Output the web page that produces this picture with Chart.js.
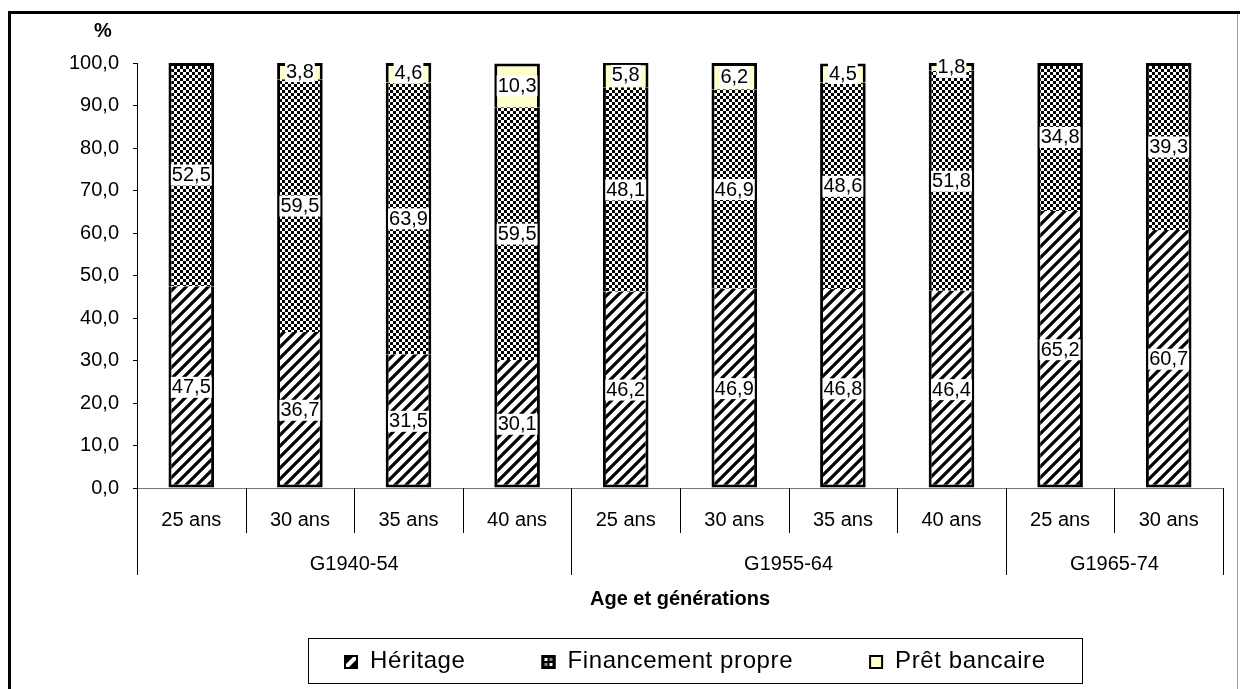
<!DOCTYPE html>
<html>
<head>
<meta charset="utf-8">
<script src="https://cdn.jsdelivr.net/npm/chart.js@4.4.1/dist/chart.umd.min.js"></script>
<style>
  html, body { margin: 0; padding: 0; background: #fff; }
</style>
</head>
<body>
<canvas id="chart" width="1240" height="689"></canvas>
<script>
// categories
const ages = ['25 ans', '30 ans', '35 ans', '40 ans', '25 ans', '30 ans', '35 ans', '40 ans', '25 ans', '30 ans'];
const generations = ['G1940-54', 'G1955-64', 'G1965-74'];
const generationSizes = [4, 4, 2];

// series (%)
const heritage = [47.5, 36.7, 31.5, 30.1, 46.2, 46.9, 46.8, 46.4, 65.2, 60.7];
const financement = [52.5, 59.5, 63.9, 59.5, 48.1, 46.9, 48.6, 51.8, 34.8, 39.3];
const pret = [0, 3.8, 4.6, 10.3, 5.8, 6.2, 4.5, 1.8, 0, 0];
const seriesNames = ['Héritage', 'Financement propre', 'Prêt bancaire'];

const FONT = 'Arial, "Liberation Sans", sans-serif';
const fmt = v => v.toFixed(1).replace('.', ',');

const ctx = document.getElementById('chart').getContext('2d');

function hatchPattern() {
    const c = document.createElement('canvas');
    c.width = c.height = 11;
    const g = c.getContext('2d');
    g.fillStyle = '#fff';
    g.fillRect(0, 0, 11, 11);
    g.strokeStyle = '#000';
    g.lineWidth = 3.2;
    g.beginPath();
    g.moveTo(-6, 6); g.lineTo(6, -6);
    g.moveTo(-1, 12); g.lineTo(12, -1);
    g.moveTo(5, 17); g.lineTo(17, 5);
    g.stroke();
    return ctx.createPattern(c, 'repeat');
}

function checkerPattern() {
    const c = document.createElement('canvas');
    c.width = c.height = 6;
    const g = c.getContext('2d');
    g.fillStyle = '#fff';
    g.fillRect(0, 0, 6, 6);
    g.fillStyle = '#000';
    g.fillRect(0, 0, 3, 3);
    g.fillRect(3, 3, 3, 3);
    return ctx.createPattern(c, 'repeat');
}

const fills = [hatchPattern(), checkerPattern(), '#FFFFCC'];
const series = [heritage, financement, pret];

function segmentBorder(c) {
    if (c.dataIndex === undefined) return 3;
    const i = c.dataIndex, d = c.datasetIndex;
    let top = -1;
    series.forEach((s, k) => { if (s[i] > 0) top = k; });
    return { left: 3, right: 3, bottom: d === 0 ? 3 : 0, top: d === top ? 3 : 0 };
}

function legendIcon(c, k, x, y, s) {
    c.fillStyle = '#fff';
    c.fillRect(x, y, s, s);
    c.fillStyle = '#000';
    if (k === 0) {
        c.beginPath();
        c.moveTo(x, y); c.lineTo(x + s - 3, y); c.lineTo(x, y + s - 3); c.closePath();
        c.moveTo(x + s, y + 3); c.lineTo(x + s, y + s); c.lineTo(x + 3, y + s); c.closePath();
        c.fill();
    } else if (k === 1) {
        c.fillRect(x, y, s, s);
        c.fillStyle = '#fff';
        c.fillRect(x + 3, y + 3, 3, 3);
        c.fillRect(x + s - 6, y + s - 6, 3, 3);
        c.fillStyle = '#888';
        c.fillRect(x + s - 6, y + 3, 3, 3);
        c.fillRect(x + 3, y + s - 6, 3, 3);
    } else {
        c.fillStyle = fills[2];
        c.fillRect(x, y, s, s);
    }
    c.lineWidth = 2;
    c.strokeStyle = '#000';
    c.strokeRect(x + 1, y + 1, s - 2, s - 2);
}

// frame, % label, value labels, grouped axis, legend
const decorations = {
    id: 'decorations',
    beforeDraw(chart) {
        const c = chart.ctx;
        c.save();
        c.fillStyle = '#fff';
        c.fillRect(0, 0, chart.width, chart.height);
        c.fillStyle = '#000';
        c.fillRect(8, 11, 3, chart.height);
        c.fillRect(8, 11, chart.width, 3);
        c.fillStyle = '#999';
        c.fillRect(1237, 14, 1, chart.height);
        c.restore();
    },
    afterDatasetsDraw(chart) {
        const c = chart.ctx;
        c.save();
        c.font = '20px ' + FONT;
        c.textAlign = 'center';
        c.textBaseline = 'middle';
        series.forEach((s, d) => {
            const meta = chart.getDatasetMeta(d);
            s.forEach((v, i) => {
                if (!v) return;
                const bar = meta.data[i];
                const y = (bar.y + bar.base) / 2;
                const t = fmt(v);
                const w = c.measureText(t).width + 2;
                c.fillStyle = '#fff';
                c.fillRect(bar.x - w / 2, y - 10, w, 21);
                c.fillStyle = '#000';
                c.fillText(t, bar.x, y + 1);
            });
        });
        c.restore();
    },
    afterDraw(chart) {
        const c = chart.ctx;
        const x = chart.scales.x, y = chart.scales.y;
        const axisY = x.top;
        c.save();
        // %
        c.font = 'bold 20px ' + FONT;
        c.fillStyle = '#000';
        c.textAlign = 'center';
        c.textBaseline = 'middle';
        c.fillText('%', 103, y.top - 32);

        // separators
        c.strokeStyle = '#000';
        c.lineWidth = 1;
        const bounds = [0];
        generationSizes.forEach(n => bounds.push(bounds[bounds.length - 1] + n));
        for (let i = 0; i <= ages.length; i++) {
            const px = Math.round(x.getPixelForValue(i - 0.5)) + 0.5;
            const long = bounds.includes(i);
            c.beginPath();
            c.moveTo(px, axisY);
            c.lineTo(px, axisY + (long ? 87 : 45));
            c.stroke();
        }
        // generation labels
        c.font = '20px ' + FONT;
        generations.forEach((g, k) => {
            const a = x.getPixelForValue(bounds[k] - 0.5);
            const b = x.getPixelForValue(bounds[k + 1] - 0.5);
            c.fillText(g, (a + b) / 2, axisY + 76);
        });

        // legend
        c.font = '24px ' + FONT;
        if ('letterSpacing' in c) c.letterSpacing = '0.6px';
        const icon = 14, gapIcon = 12, gapItem = 76;
        const widths = seriesNames.map(n => c.measureText(n).width);
        const total = widths.reduce((a, b) => a + b, 0) + seriesNames.length * (icon + gapIcon) + gapItem * (seriesNames.length - 1);
        const cx = 695, top = 638, h = 45;
        const boxL = Math.round(cx - total / 2 - 36);
        c.strokeStyle = '#000';
        c.lineWidth = 1;
        c.strokeRect(boxL + 0.5, top + 0.5, Math.round(total + 72), h);
        let lx = Math.round(cx - total / 2);
        const ly = top + h / 2 + 1;
        c.textAlign = 'left';
        seriesNames.forEach((n, k) => {
            legendIcon(c, k, lx, Math.round(ly - icon / 2), icon);
            c.fillStyle = '#000';
            c.fillText(n, lx + icon + gapIcon, ly);
            lx += icon + gapIcon + widths[k] + gapItem;
        });
        c.restore();
    }
};

new Chart(ctx, {
    type: 'bar',
    data: {
        labels: ages,
        datasets: series.map((s, d) => ({
            label: seriesNames[d],
            data: s,
            backgroundColor: fills[d],
            borderColor: '#000',
            borderWidth: segmentBorder,
            borderSkipped: false,
            inflateAmount: 0,
            barPercentage: 0.42,
            categoryPercentage: 1
        }))
    },
    options: {
        responsive: false,
        animation: false,
        layout: { padding: { top: 63, right: 17, bottom: 74, left: 0 } },
        plugins: {
            legend: { display: false },
            tooltip: { enabled: false }
        },
        scales: {
            x: {
                stacked: true,
                grid: { display: false, offset: true },
                border: { display: true, color: '#777', width: 1 },
                ticks: { color: '#000', font: { family: FONT, size: 20 }, padding: 12, maxRotation: 0, autoSkip: false },
                title: { display: true, text: 'Age et générations', color: '#000', font: { family: FONT, size: 20, weight: 'bold' } },
                afterFit(scale) { scale.height = 127; }
            },
            y: {
                stacked: true,
                min: 0,
                max: 100,
                ticks: { stepSize: 10, color: '#000', font: { family: FONT, size: 20 }, padding: 14, callback: v => fmt(v) },
                grid: { drawOnChartArea: false, tickLength: 4, color: '#000' },
                border: { display: true, color: '#000', width: 1 },
                afterFit(scale) { scale.width = 137; }
            }
        }
    },
    plugins: [decorations]
});
</script>
</body>
</html>
